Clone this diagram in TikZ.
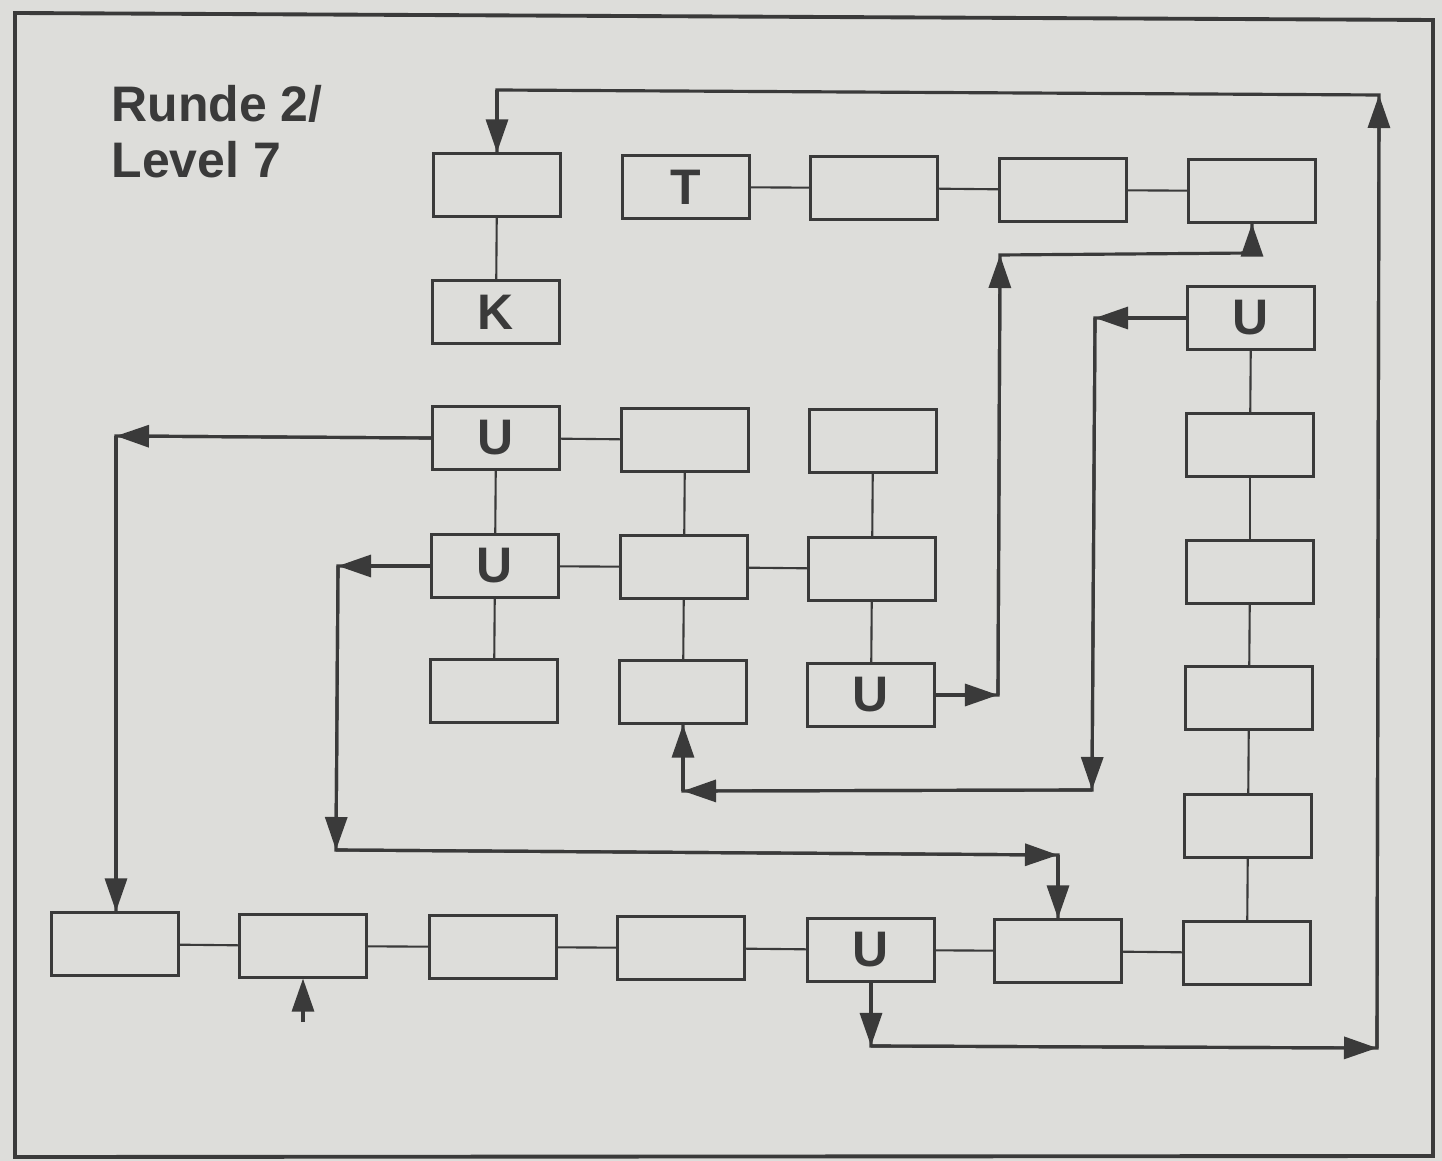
\documentclass[tikz,border=0pt]{standalone}
\usepackage{fontspec}
\setmainfont{Liberation Sans}
\usetikzlibrary{arrows.meta}
\definecolor{bg}{RGB}{221,221,218}
\definecolor{ink}{RGB}{58,58,58}
\tikzset{
  box/.style={draw=ink, line width=0.6pt, minimum width=1.27cm, minimum height=0.63cm, inner sep=0pt,
              font=\bfseries\fontsize{14.2}{16}\selectfont, text=ink},
  link/.style={draw=ink, line width=0.6pt},
  flow/.style={draw=ink, line width=0.9pt},
  arr/.style={flow, -{Triangle[length=3.3mm, width=2.2mm]}},
  title/.style={anchor=base west, inner sep=0pt, font=\bfseries\fontsize{14.2}{16}\selectfont, text=ink}
}
\begin{document}
\begin{tikzpicture}[x=0.01cm, y=-0.01cm]
\useasboundingbox (0,0) rectangle (1442,1161);
\fill[bg] (0,0) rectangle (1442,1161);
\draw[ink, line width=1.1pt] (15,13) -- (1433,20) -- (1433,1156) -- (15,1157) -- cycle;

\node[title] (t1) at (111,122) {Runde 2/};
\node[title] (t2) at (111,178) {Level 7};

% row 1
\node[box] (r1a) at (497,185) {};
\node[box] (T)   at (686,187) {T};
\node[box] (r1c) at (874,188) {};
\node[box] (r1d) at (1063,190) {};
\node[box] (r1e) at (1252,191) {};
% row 2
\node[box] (K)   at (496,312) {K};
\node[box] (u2)  at (1251,318) {U};
% row 3
\node[box] (u3)  at (496,438) {U};
\node[box] (r3b) at (685,440) {};
\node[box] (r3c) at (873,441) {};
\node[box] (r3e) at (1250,445) {};
% row 4
\node[box] (u4)  at (495,566) {U};
\node[box] (r4b) at (684,567) {};
\node[box] (r4c) at (872,569) {};
\node[box] (r4e) at (1250,572) {};
% row 5
\node[box] (r5a) at (494,691) {};
\node[box] (r5b) at (683,692) {};
\node[box] (u5)  at (871,695) {U};
\node[box] (r5e) at (1249,698) {};
% row 6
\node[box] (r6e) at (1248,826) {};
% row 7
\node[box] (r7a) at (115,944) {};
\node[box] (r7b) at (303,946) {};
\node[box] (r7c) at (493,947) {};
\node[box] (r7d) at (681,948) {};
\node[box] (u7)  at (871,950) {U};
\node[box] (r7f) at (1058,951) {};
\node[box] (r7g) at (1247,953) {};

% plain links
\draw[link] (r1a) -- (K);
\draw[link] (T) -- (r1c);
\draw[link] (r1c) -- (r1d);
\draw[link] (r1d) -- (r1e);
\draw[link] (u2) -- (r3e);
\draw[link] (r3e) -- (r4e);
\draw[link] (r4e) -- (r5e);
\draw[link] (r5e) -- (r6e);
\draw[link] (r6e) -- (r7g);
\draw[link] (u3) -- (r3b);
\draw[link] (r3b) -- (r4b);
\draw[link] (r3c) -- (r4c);
\draw[link] (u3) -- (u4);
\draw[link] (u4) -- (r4b);
\draw[link] (r4b) -- (r4c);
\draw[link] (u4) -- (r5a);
\draw[link] (r4b) -- (r5b);
\draw[link] (r4c) -- (u5);
\draw[link] (r7a) -- (r7b);
\draw[link] (r7b) -- (r7c);
\draw[link] (r7c) -- (r7d);
\draw[link] (r7d) -- (u7);
\draw[link] (u7) -- (r7f);
\draw[link] (r7f) -- (r7g);

% flow 1: bottom U around the right side to the top-left box
\coordinate (p1a) at (871,1046);
\coordinate (p1b) at (1377,1048);
\coordinate (p1c) at (1379,95);
\coordinate (p1d) at (497,90);
\draw[flow] (u7.south) -- (p1a) -- (p1b) -- (p1c) -- (p1d) -- (r1a.north);
\draw[arr] (u7.south) -- (p1a);
\draw[arr] (p1a) -- (p1b);
\draw[arr] (p1b) -- (p1c);
\draw[arr] (p1d) -- (r1a.north);

% flow 2: U row 5 up to top-right box
\coordinate (p2a) at (998,695);
\coordinate (p2b) at (1000,255);
\coordinate (p2c) at (1252,253);
\draw[flow] (u5.east) -- (p2a) -- (p2b) -- (p2c) -- (r1e.south);
\draw[arr] (u5.east) -- (p2a);
\draw[arr] (p2a) -- (p2b);
\draw[arr] (p2c) -- (r1e.south);

% flow 3: right U down and back to row 5 middle box
\coordinate (p3a) at (1095,318);
\coordinate (p3b) at (1092,790);
\coordinate (p3c) at (683,791);
\draw[flow] (u2.west) -- (p3a) -- (p3b) -- (p3c) -- (r5b.south);
\draw[arr] (u2.west) -- (p3a);
\draw[arr] (p3a) -- (p3b);
\draw[arr] (p3b) -- (p3c);
\draw[arr] (p3c) -- (r5b.south);

% flow 4: U row 3 to bottom-left box
\coordinate (p4a) at (116,436);
\draw[flow] (u3.west) -- (p4a) -- (p4a |- r7a.north);
\draw[arr] (u3.west) -- (p4a);
\draw[arr] (p4a) -- (p4a |- r7a.north);

% flow 5: U row 4 down and across to row 7
\coordinate (p5a) at (338,566);
\coordinate (p5b) at (336,850);
\coordinate (p5c) at (1058,855);
\draw[flow] (u4.west) -- (p5a) -- (p5b) -- (p5c) -- (r7f.north);
\draw[arr] (u4.west) -- (p5a);
\draw[arr] (p5a) -- (p5b);
\draw[arr] (p5b) -- (p5c);
\draw[arr] (p5c) -- (r7f.north);

% start arrow
\coordinate (s0) at (303,1022);
\draw[arr] (s0) -- (r7b.south);
\end{tikzpicture}
\end{document}
